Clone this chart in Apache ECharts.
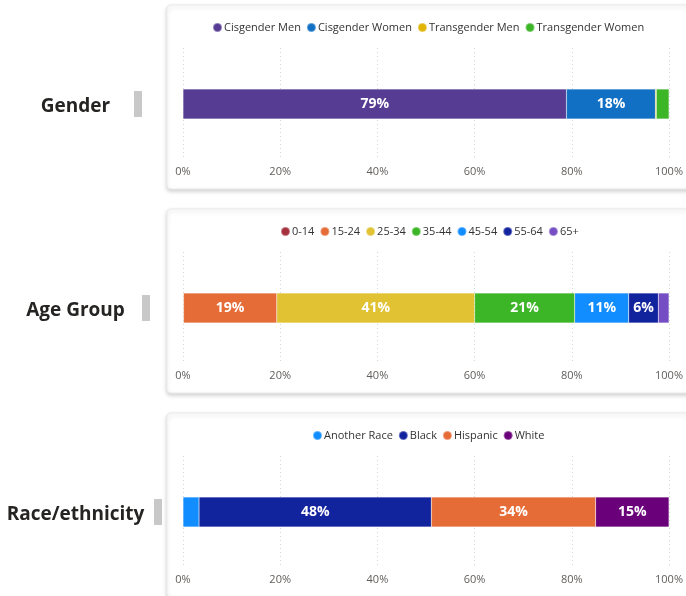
<!DOCTYPE html>
<html>
<head>
<meta charset="utf-8">
<script src="https://cdn.jsdelivr.net/npm/echarts@6/dist/echarts.min.js"></script>
<style>
  html, body { margin: 0; padding: 0; background: #fff; overflow: hidden; }
  #main { width: 686px; height: 596px; }
</style>
</head>
<body>
<div id="main"></div>
<script>
// 数据
var genderCats = ['Cisgender Men', 'Cisgender Women', 'Transgender Men', 'Transgender Women'];
var genderVals = [78.9, 18.3, 0.2, 2.6];
var genderColors = ['#563C92', '#1170C4', '#E0B400', '#3CB526'];

var ageCats = ['0-14', '15-24', '25-34', '35-44', '45-54', '55-64', '65+'];
var ageVals = [0.1, 19.2, 40.7, 20.6, 11.1, 6.1, 2.2];
var ageColors = ['#A4313D', '#E66C37', '#E0C232', '#3CB526', '#118DFF', '#12239E', '#744EC2'];

var raceCats = ['Another Race', 'Black', 'Hispanic', 'White'];
var raceVals = [3.3, 47.8, 33.8, 15.1];
var raceColors = ['#118DFF', '#12239E', '#E66C37', '#6B007B'];

var groupNames = ['Gender', 'Age Group', 'Race/ethnicity'];

var FONT = '"Open Sans", "Noto Sans", sans-serif';
var panelTops = [5, 209, 413];
var markerX = [134, 142, 154]; // 灰色竖条位置
var groups = [
	{cats: genderCats, vals: genderVals, colors: genderColors},
	{cats: ageCats, vals: ageVals, colors: ageColors},
	{cats: raceCats, vals: raceVals, colors: raceColors}
];

// 测量文字宽度
var ctx = document.createElement('canvas').getContext('2d');
function textW(str, font){
	ctx.font = font;
	return ctx.measureText(str).width;
}

var grid = [], xAxis = [], yAxis = [], legend = [], series = [], graphics = [];

groups.forEach(function(g, gi){
	var top = panelTops[gi];
	// 卡片
	graphics.push({
		type: 'rect', z: -10,
		shape: {x: 167, y: top, width: 530, height: 184, r: 4},
		style: {fill: '#fff', stroke: '#ebebeb', lineWidth: 1,
			shadowBlur: 4, shadowOffsetY: 2, shadowColor: 'rgba(0,0,0,0.18)'}
	});
	// 左侧标题 + 灰色竖条
	graphics.push({
		type: 'text', z: 5,
		style: {text: groupNames[gi], x: 75.5, y: top + 102, align: 'center', verticalAlign: 'middle',
			font: 'bold 19px ' + FONT, fill: '#252423'}
	});
	graphics.push({
		type: 'rect', z: 5,
		shape: {x: markerX[gi], y: top + 86, width: 8, height: 26},
		style: {fill: '#c8c8c8'}
	});

	grid.push({left: 183, right: 16, top: top + 43, height: 112, containLabel: false});
	xAxis.push({
		type: 'value', gridIndex: gi, min: 0, max: 100, interval: 20,
		axisLine: {show: false}, axisTick: {show: false},
		axisLabel: {formatter: '{value}%', color: '#605E5C', fontSize: 11, fontFamily: FONT, margin: 6},
		splitLine: {show: true, lineStyle: {color: '#d6d6d6', type: [1, 3], width: 1}}
	});
	yAxis.push({
		type: 'category', gridIndex: gi, data: [groupNames[gi]],
		axisLine: {show: false}, axisTick: {show: false}, axisLabel: {show: false}
	});
	// 图例居中在绘图区上方 (x≈426)
	var lw = 0;
	g.cats.forEach(function(c){ lw += 9 + 5 + textW(c, '11px ' + FONT) - 3; });
	lw += 5 * (g.cats.length - 1);
	legend.push({
		data: g.cats, top: top + 12, left: Math.round(426 - lw / 2) - 5,
		icon: 'circle', itemWidth: 9, itemHeight: 9, itemGap: 5,
		textStyle: {color: '#333', fontSize: 11, fontFamily: FONT, padding: [0, 0, 0, -3]}
	});
	g.cats.forEach(function(name, i){
		series.push({
			name: name, type: 'bar', stack: 'g' + gi,
			xAxisIndex: gi, yAxisIndex: gi,
			barWidth: 30,
			itemStyle: {color: g.colors[i], borderColor: 'rgba(255,255,255,0.35)', borderWidth: 0.5},
			label: {
				show: true, position: 'inside', color: '#fff', fontWeight: 'bold',
				fontSize: 14, fontFamily: FONT,
				formatter: function(p){ return p.value >= 5 ? Math.round(p.value) + '%' : ''; }
			},
			data: [g.vals[i]]
		});
	});
});

var myChart = echarts.init(document.getElementById('main'));
myChart.setOption({
	animation: false,
	backgroundColor: '#fff',
	textStyle: {fontFamily: FONT},
	grid: grid,
	xAxis: xAxis,
	yAxis: yAxis,
	legend: legend,
	series: series,
	graphic: {elements: graphics}
});
</script>
</body>
</html>
